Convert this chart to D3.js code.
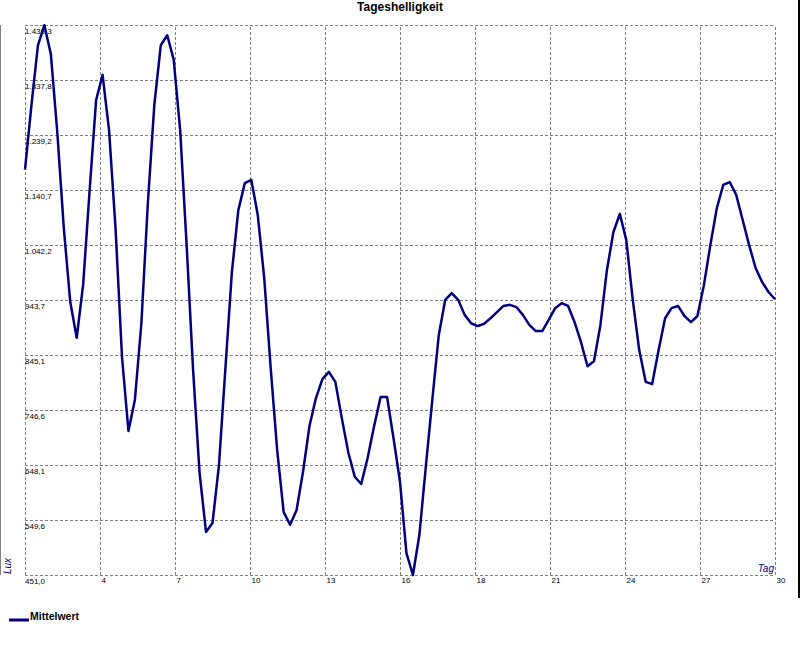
<!DOCTYPE html>
<html><head><meta charset="utf-8">
<script src="https://cdn.jsdelivr.net/npm/d3@7"></script>
<style>
body{margin:0;background:#fff;}
svg{display:block;font-family:Arial,"Liberation Sans",sans-serif;}
</style></head>
<body>
<svg id="chart" width="800" height="650"></svg>
<script>
const title = "Tageshelligkeit";
const seriesName = "Mittelwert";
const xAxisTitle = "Tag";
const yAxisTitle = "Lux";

// sample times (days, 4 samples per day)
const times = [1,1.25,1.5,1.75,2,2.25,2.5,2.75,3,3.25,3.5,3.75,4,4.25,4.5,4.75,5,5.25,5.5,5.75,
6,6.25,6.5,6.75,7,7.25,7.5,7.75,8,8.25,8.5,8.75,9,9.25,9.5,9.75,10,10.25,10.5,10.75,
11,11.25,11.5,11.75,12,12.25,12.5,12.75,13,13.25,13.5,13.75,14,14.25,14.5,14.75,15,15.25,15.5,15.75,
16,16.25,16.5,16.75,17,17.25,17.5,17.75,18,18.25,18.5,18.75,19,19.25,19.5,19.75,20,20.25,20.5,20.75,
21,21.25,21.5,21.75,22,22.25,22.5,22.75,23,23.25,23.5,23.75,24,24.25,24.5,24.75,25,25.25,25.5,25.75,
26,26.25,26.5,26.75,27,27.25,27.5,27.75,28,28.25,28.5,28.75,29,29.25,29.5,29.75,30];

// Mittelwert (Lux)
const luxValues = [1177,1293,1400,1436,1384,1243,1073,940,876,972,
1141,1302,1347,1248,1073,842,709,765,902,1117,
1293,1400,1418,1374,1248,1042,818,634,528,544,
648,822,994,1105,1153,1159,1096,983,822,675,
564,541,567,636,718,768,802,815,797,732,
671,627,614,661,718,770,770,696,618,490,
451,523,646,765,881,944,956,944,917,902,
897,901,911,922,933,935,931,917,899,888,
888,908,929,938,933,904,868,825,834,899,
997,1065,1098,1051,944,854,797,793,854,911,
929,933,915,904,915,970,1042,1108,1150,1155,
1132,1087,1042,1001,976,958,945];

const xTicks = [1,3.9,6.8,9.7,12.6,15.5,18.4,21.3,24.2,27.1,30];
const xTickLabels = ["","4","7","10","13","16","18","21","24","27","30"];
const yTicks = [451.0,549.53,648.06,746.59,845.12,943.65,1042.18,1140.71,1239.24,1337.77,1436.3];
const yTickLabels = ["451,0","549,6","648,1","746,6","845,1","943,7","1.042,2","1.140,7","1.239,2","1.337,8","1.436,3"];

const L = 25, R = 775, T = 25, B = 575;
const svg = d3.select("#chart");
svg.append("rect").attr("width",800).attr("height",650).attr("fill","#fff");

const x = d3.scaleLinear().domain([1,30]).range([L,R]);
const y = d3.scaleLinear().domain([451.0,1436.3]).range([B,T]);

const grid = "#808080";
const fam = "Arial,'Liberation Sans',sans-serif";
// x grid + labels
const gx = svg.append("g").attr("transform",`translate(0,${B})`)
  .call(d3.axisBottom(x).tickValues(xTicks).tickSize(-(B-T)).tickFormat((d,i)=>xTickLabels[i]));
gx.select(".domain").remove();
gx.selectAll(".tick line").attr("stroke",grid).attr("stroke-dasharray","3,2");
gx.selectAll(".tick text").attr("text-anchor","start").attr("x",1).attr("y",8).attr("dy",0)
  .attr("font-size","8px").attr("fill","#000").attr("font-family",fam);

// y grid + labels
const gy = svg.append("g").attr("transform",`translate(${L},0)`)
  .call(d3.axisLeft(y).tickValues(yTicks).tickSize(-(R-L)).tickFormat((d,i)=>yTickLabels[i]));
gy.select(".domain").remove();
gy.selectAll(".tick line").attr("stroke",grid).attr("stroke-dasharray","3,2");
gy.selectAll(".tick text").attr("text-anchor","start").attr("x",0).attr("y",8).attr("dy",0)
  .attr("font-size","8px").attr("fill","#000").attr("font-family",fam);

// border lines
svg.append("line").attr("x1",0.5).attr("x2",0.5).attr("y1",T).attr("y2",B).attr("stroke","#808080").attr("stroke-width",1);
svg.append("line").attr("x1",799).attr("x2",799).attr("y1",0).attr("y2",598).attr("stroke","#000").attr("stroke-width",2);

// data line
const data = times.map((t,i)=>({t, v: luxValues[i]}));
const line = d3.line().x(d=>x(d.t)).y(d=>y(d.v)).curve(d3.curveLinear);
svg.append("path").datum(data).attr("d",line)
  .attr("fill","none").attr("stroke","#000080").attr("stroke-width",2.5).attr("stroke-linejoin","round");

// title
svg.append("text").attr("x",400).attr("y",11).attr("text-anchor","middle")
  .attr("font-size","12px").attr("font-weight","bold").text(title);

// axis titles
svg.append("text").attr("transform","translate(11,574) rotate(-90)")
  .attr("font-size","10px").attr("font-style","italic").attr("fill","#000080").text(yAxisTitle);
svg.append("text").attr("x",774).attr("y",572).attr("text-anchor","end")
  .attr("font-size","10px").attr("font-style","italic").attr("fill","#000080").text(xAxisTitle);

// legend
svg.append("line").attr("x1",9).attr("x2",29).attr("y1",620).attr("y2",620)
  .attr("stroke","#000080").attr("stroke-width",3);
svg.append("text").attr("x",30).attr("y",620).attr("font-size","10.5px").attr("font-weight","bold").text(seriesName);
</script>
</body></html>
